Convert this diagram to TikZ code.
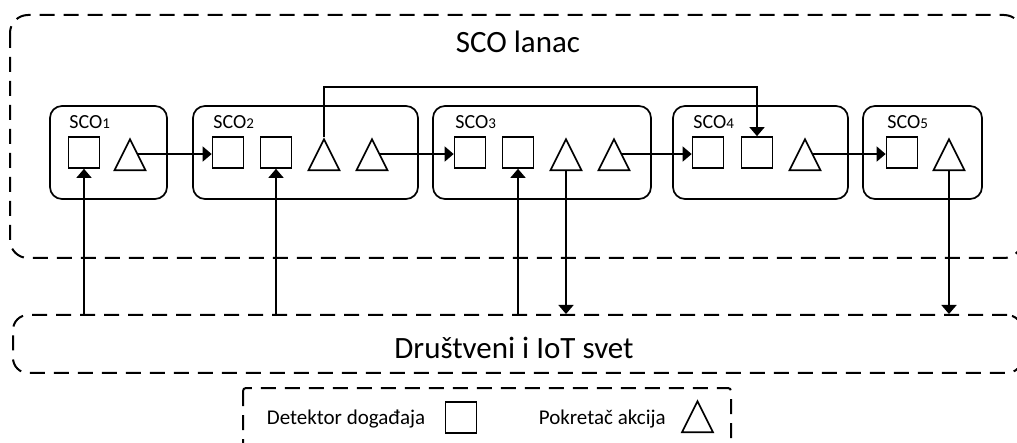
\documentclass[tikz,border=0pt]{standalone}
\usepackage{fontspec}
\setmainfont{Carlito}
\usepackage{tikz}
\usetikzlibrary{arrows.meta,shapes.geometric}
\newcommand\sconame[1]{SCO{\fontsize{15}{18}\selectfont #1}}

\begin{document}
\begin{tikzpicture}[x=1pt,y=-1pt,>={Triangle[width=15pt,length=9pt]},line width=1.7pt,
  dashbox/.style={dash pattern=on 15pt off 9pt,line width=2pt},
  scobox/.style={rounded corners=12pt},
  detektor/.style={draw,minimum size=31pt,inner sep=0pt},
  pokretac/.style={draw,isosceles triangle,isosceles triangle stretches,shape border rotate=90,minimum width=31pt,minimum height=31pt,inner sep=0pt,anchor=apex},
  naslov/.style={font=\fontsize{31}{36}\selectfont,anchor=base,inner sep=0pt},
  oznaka/.style={font=\fontsize{20}{24}\selectfont,anchor=base west,inner sep=0pt},
  legenda/.style={font=\fontsize{21}{25}\selectfont,anchor=base west,inner sep=0pt}]
  \useasboundingbox (0,0) rectangle (1017,443);
  \draw[dashbox,rounded corners=18pt] (10,15) rectangle (1022,258);
  \node[naslov] (lanac) at (518,53) {SCO lanac};

  \draw[scobox] (50,106) rectangle (167,199);
  \draw[scobox] (193,106) rectangle (418,199);
  \draw[scobox] (433,106) rectangle (651,199);
  \draw[scobox] (673,106) rectangle (848,199);
  \draw[scobox] (863,106) rectangle (982,199);
  \node[oznaka] (sco1) at (68.5,129) {\sconame{1}};
  \node[oznaka] (sco2) at (212.5,129) {\sconame{2}};
  \node[oznaka] (sco3) at (454.5,129) {\sconame{3}};
  \node[oznaka] (sco4) at (692.5,129) {\sconame{4}};
  \node[oznaka] (sco5) at (886.5,129) {\sconame{5}};

  \node[detektor] (d11) at (84,152.5) {};
  \node[pokretac] (p11) at (130,137) {};
  \node[detektor] (d21) at (228,152.5) {};
  \node[detektor] (d22) at (276,152.5) {};
  \node[pokretac] (p21) at (324,137) {};
  \node[pokretac] (p22) at (372,137) {};
  \node[detektor] (d31) at (470,152.5) {};
  \node[detektor] (d32) at (518,152.5) {};
  \node[pokretac] (p31) at (566,137) {};
  \node[pokretac] (p32) at (614,137) {};
  \node[detektor] (d41) at (708,152.5) {};
  \node[detektor] (d42) at (757,152.5) {};
  \node[pokretac] (p41) at (805,137) {};
  \node[detektor] (d51) at (902,152.5) {};
  \node[pokretac] (p51) at (949,137) {};

  \node[draw,dashbox,rounded corners=15pt,minimum width=1009pt,minimum height=58pt,inner sep=0pt] (world) at (517.5,344) {};
  \node[naslov] (svet) at (514,359) {Društveni i IoT svet};

  \draw[->] (p11.right side) -- (p11.right side -| d21.west);
  \draw[->] (p22.right side) -- (p22.right side -| d31.west);
  \draw[->] (p32.right side) -- (p32.right side -| d41.west);
  \draw[->] (p41.right side) -- (p41.right side -| d51.west);
  \draw[->] (p21.apex) -- ++(0,-50) -| (d42.north);
  \draw[->] (world.north -| d11.south) -- (d11.south);
  \draw[->] (world.north -| d22.south) -- (d22.south);
  \draw[->] (world.north -| d32.south) -- (d32.south);
  \draw[->] (p31.lower side) -- (p31.lower side |- world.north);
  \draw[->] (p51.lower side) -- (p51.lower side |- world.north);

  \draw[dashbox,rounded corners=3pt] (243,388) rectangle (731,460);
  \node[legenda] (ldet) at (266,424) {Detektor događaja};
  \node[detektor] (ldsq) at (461,417.5) {};
  \node[legenda] (lpok) at (538,424) {Pokretač akcija};
  \node[pokretac] (lptr) at (697.5,399) {};
\end{tikzpicture}
\end{document}
